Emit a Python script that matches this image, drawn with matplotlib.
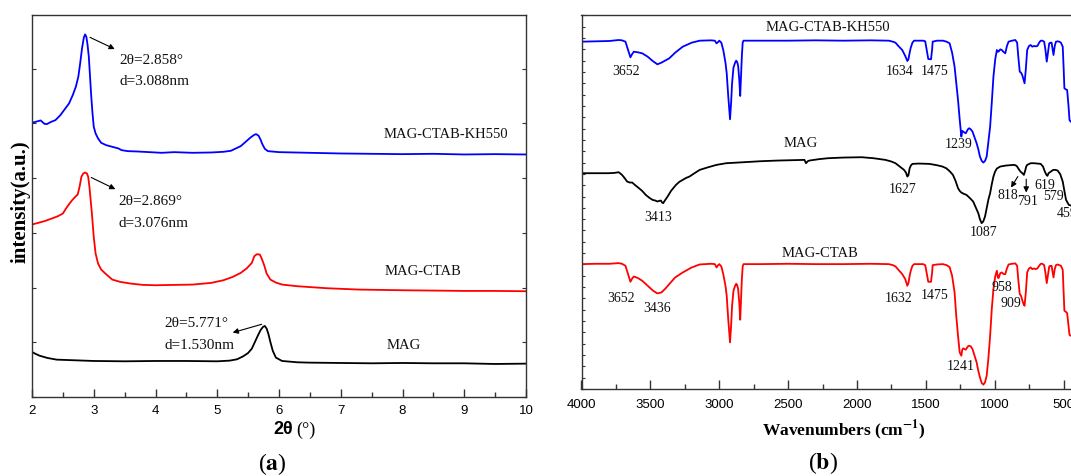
#!/usr/bin/env python3
"""
plot.py

Two-panel figure: (a) small-angle XRD patterns, (b) FTIR spectra
for MAG, MAG-CTAB and MAG-CTAB-KH550.
"""

import matplotlib
matplotlib.use("Agg")

import matplotlib.pyplot as plt
from matplotlib.ticker import MultipleLocator, NullFormatter

plt.rcParams["font.family"] = ["Liberation Serif", "DejaVu Serif"]
plt.rcParams["mathtext.fontset"] = "stix"

SERIF = "Liberation Serif"
SANS = "Liberation Sans"

# ─────────────────────────────────────────────────────────────
# (a) XRD data  (2θ in degrees, intensity in arbitrary units)
# ─────────────────────────────────────────────────────────────

xrd_kh550_x = [2.00, 2.08, 2.14, 2.20, 2.24, 2.30, 2.38, 2.46, 2.54, 2.60,
               2.66, 2.71, 2.75, 2.78, 2.81, 2.84, 2.86, 2.88, 2.90, 2.92,
               2.94, 2.96, 2.98, 3.00, 3.03, 3.07, 3.12, 3.20, 3.30, 3.40,
               3.45, 3.55, 3.70, 3.90, 4.10, 4.30, 4.60, 4.90, 5.10, 5.22,
               5.30, 5.38, 5.46, 5.54, 5.60, 5.63, 5.67, 5.70, 5.73, 5.77,
               5.82, 6.00, 6.50, 7.00, 7.50, 8.00, 8.50, 9.00, 9.50, 10.0]
xrd_kh550_y = [822, 826, 829, 819, 818, 824, 830, 845, 865, 880,
               905, 930, 960, 1000, 1045, 1078, 1087, 1080, 1055, 1020,
               960, 900, 850, 810, 790, 775, 762, 755, 750, 745,
               740, 737, 736, 734, 732, 734, 732, 733, 735, 738,
               745, 752, 765, 778, 786, 788, 783, 772, 758, 744,
               737, 734, 732, 730, 729, 728, 729, 727, 728, 727]

xrd_ctab_x = [2.00, 2.10, 2.20, 2.32, 2.42, 2.50, 2.55, 2.60, 2.65, 2.70,
              2.74, 2.77, 2.80, 2.83, 2.86, 2.89, 2.91, 2.93, 2.95, 2.97,
              3.00, 3.03, 3.07, 3.12, 3.20, 3.30, 3.43, 3.60, 3.80, 4.00,
              4.30, 4.60, 4.90, 5.10, 5.25, 5.38, 5.48, 5.56, 5.60, 5.64,
              5.69, 5.72, 5.76, 5.80, 5.86, 5.95, 6.05, 6.30, 6.78, 7.30,
              8.00, 8.50, 9.00, 9.50, 10.0]
xrd_ctab_y = [517, 522, 527, 535, 542, 550, 565, 578, 590, 600,
              607, 630, 660, 670, 673, 670, 660, 630, 590, 550,
              480, 430, 400, 382, 368, 352, 345, 340, 336, 335,
              336, 337, 342, 350, 360, 372, 386, 402, 422, 428,
              427, 415, 395, 370, 352, 343, 337, 332, 326, 322,
              320, 319, 318, 318, 317]

xrd_mag_x = [2.00, 2.05, 2.12, 2.25, 2.40, 2.70, 3.00, 3.50, 4.00, 4.50,
             5.00, 5.20, 5.32, 5.42, 5.50, 5.56, 5.61, 5.66, 5.70, 5.74,
             5.77, 5.80, 5.83, 5.86, 5.90, 5.95, 6.05, 6.30, 6.50, 7.00,
             7.50, 8.00, 8.50, 9.00, 9.50, 10.0]
xrd_mag_y = [135, 130, 124, 117, 112, 110, 108, 107, 108, 108,
             107, 109, 113, 122, 132, 145, 165, 185, 200, 210,
             213, 205, 188, 165, 138, 118, 108, 104, 103, 102,
             101, 102, 101, 101, 99, 100]

# ─────────────────────────────────────────────────────────────
# (b) FTIR data  (wavenumber in cm-1, transmittance arbitrary)
# ─────────────────────────────────────────────────────────────

ftir_kh550_x = [4000, 3900, 3800, 3730, 3706, 3681, 3662, 3645, 3632, 3620,
                3590, 3559, 3520, 3480, 3449, 3420, 3390, 3363, 3320, 3265,
                3200, 3142, 3060, 3032, 3020, 3008, 3000, 2985, 2971, 2955,
                2946, 2935, 2922, 2914, 2907, 2897, 2885, 2877, 2870, 2863,
                2855, 2848, 2842, 2836, 2830, 2824, 2700, 2500, 2300, 2100,
                1900, 1770, 1740, 1721, 1700, 1672, 1650, 1635, 1627, 1618,
                1610, 1598, 1586, 1520, 1505, 1495, 1483, 1463, 1455, 1451,
                1420, 1377, 1350, 1328, 1310, 1292, 1280, 1267, 1255, 1243,
                1236, 1230, 1220, 1211, 1195, 1186, 1175, 1162, 1147, 1132,
                1120, 1108, 1095, 1083, 1071, 1059, 1047, 1034, 1022, 1010,
                997, 985, 978, 973, 960, 949, 936, 924, 912, 900,
                875, 851, 838, 830, 819, 810, 801, 792, 784, 775,
                765, 752, 740, 728, 716, 703, 691, 678, 667, 655,
                642, 633, 623, 614, 605, 596, 588, 580, 574, 565,
                556, 545, 532, 520, 507, 500, 495, 485, 475, 465,
                458, 450, 430, 400]
ftir_kh550_y = [1043, 1044, 1045, 1048, 1047, 1043, 1018, 996, 1006, 1013,
                1011, 1008, 998, 984, 975, 980, 987, 993, 1010, 1028,
                1040, 1046, 1047, 1046, 1038, 1042, 1046, 1040, 1018, 980,
                948, 880, 810, 860, 918, 965, 980, 986, 982, 970,
                930, 880, 940, 1000, 1040, 1046, 1046, 1046, 1047, 1046,
                1047, 1046, 1043, 1040, 1030, 1018, 1000, 985, 990, 1010,
                1025, 1040, 1046, 1046, 1044, 1020, 991, 990, 1020, 1043,
                1046, 1046, 1043, 1038, 1010, 968, 920, 868, 810, 758,
                775, 773, 770, 768, 780, 783, 780, 773, 755, 738,
                720, 698, 685, 680, 685, 698, 740, 788, 860, 938,
                990, 1018, 1013, 1013, 1020, 1018, 1012, 1008, 1030, 1043,
                1046, 1048, 1040, 1000, 953, 950, 943, 930, 918, 960,
                1018, 1030, 1033, 1028, 1030, 1029, 1030, 1040, 1046, 1046,
                1043, 1020, 983, 1010, 1038, 1040, 1040, 1020, 1003, 1030,
                1043, 1044, 1043, 1040, 1028, 960, 903, 900, 898, 850,
                808, 803, 800, 798]

ftir_mag_x = [4000, 3900, 3804, 3760, 3730, 3706, 3690, 3669, 3650, 3632,
              3610, 3583, 3560, 3534, 3510, 3485, 3465, 3449, 3435, 3424,
              3415, 3407, 3395, 3375, 3350, 3314, 3290, 3265, 3240, 3216,
              3180, 3142, 3080, 3020, 2950, 2824, 2700, 2578, 2480, 2382,
              2370, 2358, 2346, 2280, 2211, 2100, 1966, 1880, 1794, 1750,
              1721, 1690, 1659, 1645, 1635, 1627, 1618, 1608, 1598, 1550,
              1475, 1420, 1380, 1353, 1330, 1304, 1285, 1267, 1255, 1243,
              1225, 1206, 1180, 1157, 1138, 1120, 1108, 1096, 1084, 1071,
              1058, 1046, 1034, 1022, 1010, 998, 985, 961, 920, 863,
              850, 838, 826, 814, 800, 789, 780, 772, 765, 740,
              716, 690, 667, 650, 637, 625, 618, 610, 593, 580,
              574, 560, 544, 525, 507, 495, 483, 463, 440, 400]
ftir_mag_y = [648, 648, 648, 649, 651, 643, 635, 623, 620, 620,
              612, 603, 595, 583, 575, 568, 566, 563, 565, 566,
              560, 558, 566, 578, 595, 613, 622, 628, 634, 638,
              648, 658, 666, 673, 678, 681, 684, 686, 687, 688,
              678, 684, 686, 690, 693, 695, 696, 693, 688, 683,
              678, 668, 658, 650, 638, 642, 663, 672, 676, 677,
              676, 672, 668, 663, 655, 643, 625, 603, 595, 590,
              586, 583, 573, 563, 545, 528, 510, 498, 503, 518,
              545, 570, 588, 615, 638, 653, 662, 668, 671, 673,
              672, 668, 660, 653, 648, 643, 655, 668, 673, 678,
              678, 677, 676, 668, 653, 643, 640, 648, 653, 657,
              658, 658, 656, 645, 623, 595, 568, 553, 550, 548]

ftir_ctab_x = ftir_kh550_x
ftir_ctab_y = [375, 376, 376, 378, 376, 370, 345, 322, 332, 338,
               333, 325, 310, 295, 287, 290, 302, 315, 335, 350,
               365, 374, 376, 375, 365, 372, 375, 368, 345, 310,
               280, 210, 140, 190, 250, 295, 310, 316, 312, 300,
               260, 208, 270, 330, 368, 375, 375, 376, 375, 375,
               376, 375, 372, 368, 358, 345, 330, 310, 318, 340,
               355, 370, 375, 375, 372, 350, 322, 322, 350, 372,
               374, 375, 372, 366, 340, 290, 220, 160, 110, 100,
               118, 122, 120, 118, 128, 130, 128, 120, 100, 80,
               55, 35, 18, 13, 20, 40, 90, 160, 240, 300,
               338, 355, 335, 333, 348, 350, 345, 345, 362, 374,
               376, 377, 370, 330, 285, 280, 268, 255, 250, 290,
               350, 362, 365, 360, 362, 360, 362, 370, 376, 376,
               372, 350, 318, 342, 368, 370, 370, 350, 335, 360,
               372, 374, 372, 370, 358, 290, 235, 232, 228, 190,
               163, 160, 158, 156]

# peak labels: (text, wavenumber, y)
ftir_peak_labels = [
    ("3652", 3676, 953), ("1634", 1689, 953), ("1475", 1439, 953),
    ("1239", 1262, 733),
    ("3413", 3444, 516), ("1627", 1672, 598), ("1087", 1083, 471),
    ("818", 907, 581), ("791", 765, 563), ("619", 637, 611),
    ("579", 574, 578),
    ("3652", 3713, 271), ("3436", 3453, 243), ("1632", 1696, 271),
    ("1475", 1439, 281), ("958", 948, 306), ("909", 880, 258),
    ("1241", 1250, 68),
]


# ─────────────────────────────────────────────────────────────
# Figure
# ─────────────────────────────────────────────────────────────

W, H = 1071, 476
fig = plt.figure(figsize=(W / 100, H / 100), dpi=100)


def px_box(left, top, right, bottom):
    return [left / W, 1 - bottom / H, (right - left) / W, (bottom - top) / H]


ax_a = fig.add_axes(px_box(32, 14.7, 526, 397))
ax_b = fig.add_axes(px_box(581.5, 14.7, 581.5 + 3600 * 0.13777, 389))

for ax in (ax_a, ax_b):
    for sp in ax.spines.values():
        sp.set_linewidth(1.0)
        sp.set_color("#333333")

# ---------------- panel (a) ----------------
ax_a.plot(xrd_kh550_x, xrd_kh550_y, color="#0000ff", lw=1.3)
ax_a.plot(xrd_ctab_x, xrd_ctab_y, color="#ff0000", lw=1.3)
ax_a.plot(xrd_mag_x, xrd_mag_y, color="black", lw=1.3)

ax_a.set_xlim(2, 10)
ax_a.set_ylim(0, 1146)
ax_a.xaxis.set_major_locator(MultipleLocator(1))
ax_a.xaxis.set_minor_locator(MultipleLocator(0.5))
ax_a.yaxis.set_major_locator(MultipleLocator(164))
ax_a.yaxis.set_major_formatter(NullFormatter())
ax_a.tick_params(axis="x", which="major", direction="in", length=6,
                 width=1, pad=6, labelsize=9.5, color="#333333")
ax_a.tick_params(axis="x", which="minor", direction="in", length=3.5,
                 width=1, color="#333333")
ax_a.tick_params(axis="y", which="major", direction="in", length=3,
                 width=0.8, left=True, right=True, color="#333333")
for lab in ax_a.get_xticklabels():
    lab.set_fontfamily(SANS)

ann_font = dict(fontfamily=SERIF, fontsize=11, color="#111111")
arrow = dict(arrowstyle="-|>", color="black", lw=0.8, mutation_scale=8,
             shrinkA=0, shrinkB=0)

ax_a.annotate("", xy=(3.34, 1043), xytext=(2.94, 1078), arrowprops=arrow)
ax_a.text(3.42, 1010, "2θ=2.858°", va="center", ha="left", **ann_font)
ax_a.text(3.42, 945, "d=3.088nm", va="center", ha="left", **ann_font)

ax_a.annotate("", xy=(3.35, 623), xytext=(2.96, 658), arrowprops=arrow)
ax_a.text(3.40, 585, "2θ=2.869°", va="center", ha="left", **ann_font)
ax_a.text(3.40, 520, "d=3.076nm", va="center", ha="left", **ann_font)

ax_a.annotate("", xy=(5.25, 193), xytext=(5.72, 218), arrowprops=arrow)
ax_a.text(4.14, 220, "2θ=5.771°", va="center", ha="left", **ann_font)
ax_a.text(4.14, 155, "d=1.530nm", va="center", ha="left", **ann_font)

lab_font = dict(fontfamily=SERIF, fontsize=10.5, color="#111111")
ax_a.text(7.70, 787, "MAG-CTAB-KH550", va="center", ha="left", **lab_font)
ax_a.text(7.71, 375, "MAG-CTAB", va="center", ha="left", **lab_font)
ax_a.text(7.75, 153, "MAG", va="center", ha="left", **lab_font)

# ---------------- panel (b) ----------------
ax_b.plot(ftir_kh550_x, ftir_kh550_y, color="#0000ff", lw=1.3)
ax_b.plot(ftir_mag_x, ftir_mag_y, color="black", lw=1.3)
ax_b.plot(ftir_ctab_x, ftir_ctab_y, color="#ff0000", lw=1.3)

ax_b.set_xlim(4000, 400)
ax_b.set_ylim(0, 1124)
ax_b.xaxis.set_major_locator(MultipleLocator(500))
ax_b.xaxis.set_minor_locator(MultipleLocator(250))
ax_b.yaxis.set_major_locator(MultipleLocator(34))
ax_b.yaxis.set_major_formatter(NullFormatter())
ax_b.tick_params(axis="x", which="major", direction="in", length=6.5,
                 width=1, pad=7.5, labelsize=9.5, color="#333333")
ax_b.tick_params(axis="x", which="minor", direction="in", length=3.5,
                 width=1, color="#333333")
ax_b.tick_params(axis="y", which="major", direction="in", length=2.5,
                 width=0.8, color="#333333")
for lab in ax_b.get_xticklabels():
    lab.set_fontfamily(SANS)

ax_b.text(2211, 1085, "MAG-CTAB-KH550", va="center", ha="center", **lab_font)
ax_b.text(2407, 738, "MAG", va="center", ha="center", **lab_font)
ax_b.text(2265, 408, "MAG-CTAB", va="center", ha="center", **lab_font)

pk_font = dict(fontfamily=SERIF, fontsize=10, color="#111111")
for txt, wn, yv in ftir_peak_labels:
    ax_b.text(wn, yv, txt, va="center", ha="center", **pk_font)
ax_b.text(549, 528, "459", va="center", ha="left", **pk_font)

ax_b.annotate("", xy=(882, 605), xytext=(833, 638), arrowprops=arrow)
ax_b.annotate("", xy=(772, 590), xytext=(772, 630), arrowprops=arrow)

# ---------------- axis titles and panel letters ----------------
ylab_y = 1 - 201.7 / H
fig.text(20.7 / W, ylab_y, "intensity(a.u.)", rotation=90, va="center",
         ha="center", fontfamily=SERIF, fontweight="bold", fontsize=15)

lab_y = 1 - 430 / H
fig.text(293 / W, lab_y, "2θ", va="center", ha="right",
         fontfamily=SANS, fontweight="bold", fontsize=13)
fig.text(296 / W, lab_y, "(°)", va="center", ha="left",
         fontfamily=SERIF, fontsize=13)

fig.text(844 / W, lab_y, "Wavenumbers (cm$^{\\mathbf{-1}}$)", va="center",
         ha="center", fontfamily=SERIF, fontweight="bold", fontsize=12.5)

fig.text(272 / W, 1 - 464 / H, "($\\mathbf{a}$)", va="center", ha="center",
         fontfamily=SERIF, fontsize=17)
fig.text(823 / W, 1 - 463 / H, "($\\mathbf{b}$)", va="center", ha="center",
         fontfamily=SERIF, fontsize=17)

fig.savefig("out.png", dpi=100)
plt.close(fig)
